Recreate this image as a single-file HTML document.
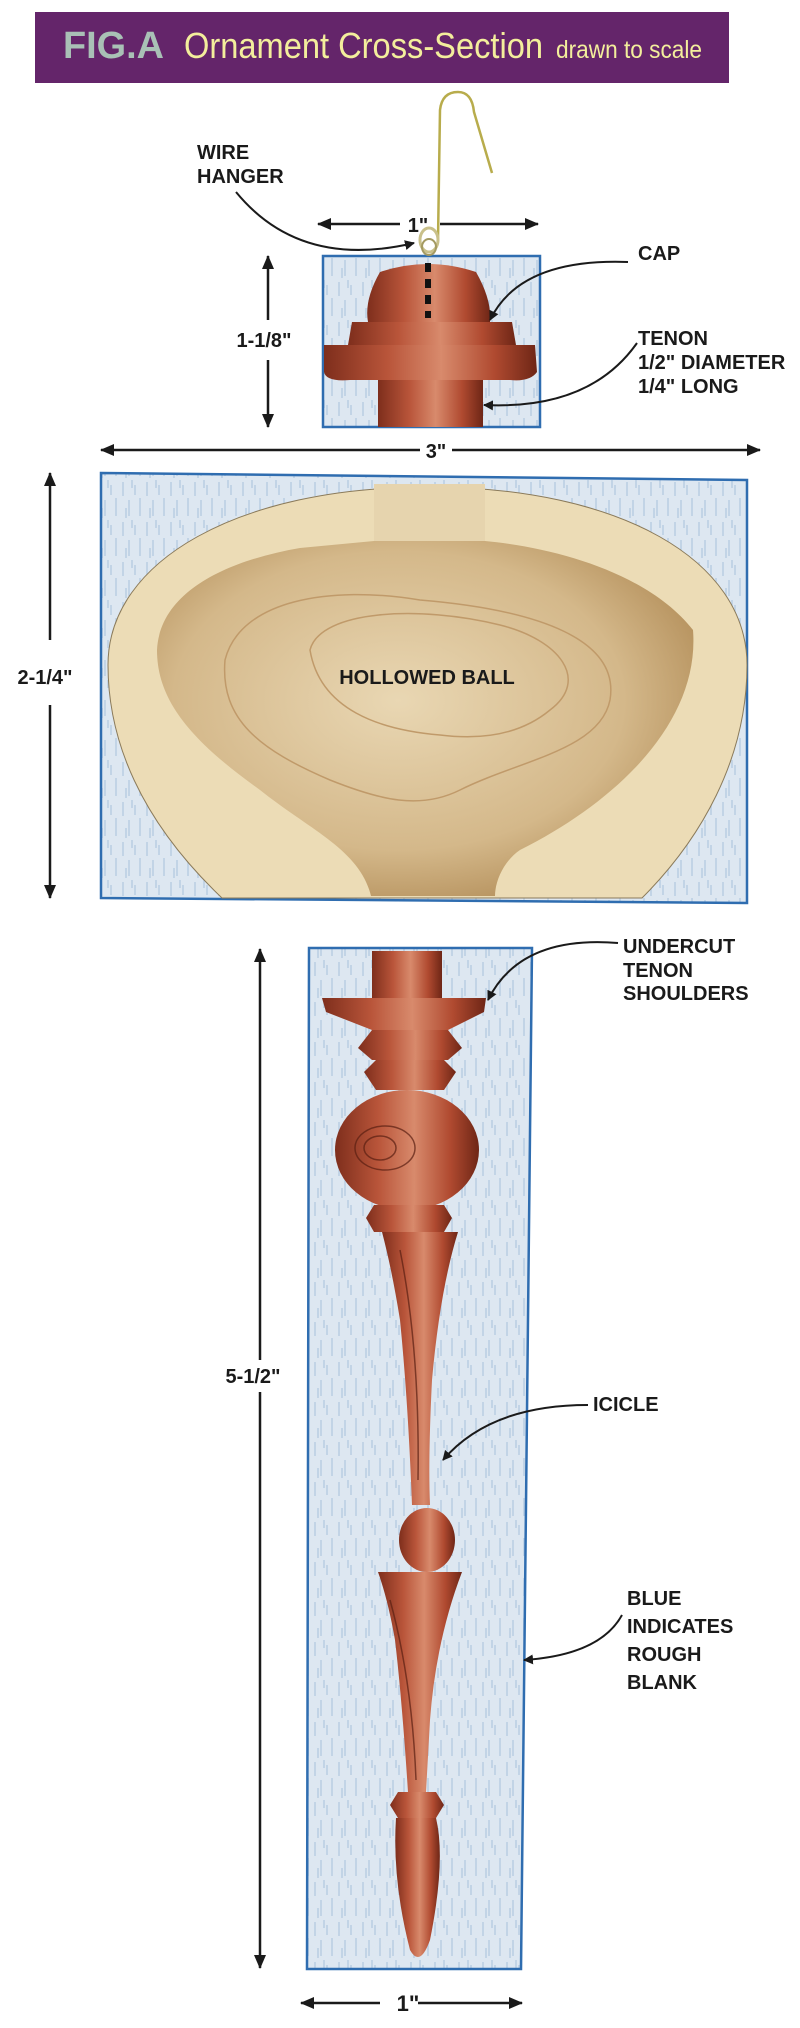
<!DOCTYPE html>
<html><head><meta charset="utf-8"><style>
html,body{margin:0;padding:0;background:#fff;}
svg{display:block;}
.n{font-family:"Liberation Sans Narrow","Liberation Sans",sans-serif;font-weight:bold;fill:#1a1a1a;}
.w{font-family:"Liberation Sans",sans-serif;font-weight:bold;fill:#1a1a1a;}
</style></head><body>
<svg width="800" height="2028" viewBox="0 0 800 2028" xmlns="http://www.w3.org/2000/svg">
<defs>
<pattern id="str" width="24" height="40" patternUnits="userSpaceOnUse">
<rect width="24" height="40" fill="#dde7f1"/>
<path d="M3 2v14M9 20v16M15 5v10M20 18v18M6 28v10M12 0v8" stroke="#b9cde3" stroke-width="1.5"/>
</pattern>
<marker id="ah" markerWidth="10" markerHeight="10" refX="9" refY="5" orient="auto" markerUnits="userSpaceOnUse"><path d="M0,0 L10,5 L0,10 Z" fill="#1a1a1a"/></marker>
<marker id="ah2" markerWidth="14" markerHeight="12" refX="13" refY="6" orient="auto" markerUnits="userSpaceOnUse"><path d="M0,0 L14,6 L0,12 Z" fill="#1a1a1a"/></marker>
<linearGradient id="wood" x1="0" x2="1" y1="0" y2="0">
<stop offset="0" stop-color="#7e2e1c"/><stop offset="0.3" stop-color="#b9553a"/><stop offset="0.55" stop-color="#d88a6c"/><stop offset="0.8" stop-color="#b04a30"/><stop offset="1" stop-color="#6e2616"/>
</linearGradient>
<radialGradient id="bowl" cx="0.45" cy="0.45" r="0.6">
<stop offset="0" stop-color="#e9d7b3"/><stop offset="0.7" stop-color="#d4b88a"/><stop offset="1" stop-color="#b6925e"/>
</radialGradient>
</defs>

<!-- Banner -->
<rect x="35" y="12" width="694" height="71" fill="#64256a"/>
<text x="63" y="58" font-family="Liberation Sans Narrow,Liberation Sans,sans-serif" font-weight="bold" font-size="38" fill="#a9c0b6" textLength="101" lengthAdjust="spacingAndGlyphs">FIG.A</text>
<text x="184" y="58" font-family="Liberation Sans Narrow,Liberation Sans,sans-serif" font-size="36" fill="#f3ee9c" textLength="359" lengthAdjust="spacingAndGlyphs">Ornament Cross-Section</text>
<text x="556" y="58" font-family="Liberation Sans Narrow,Liberation Sans,sans-serif" font-size="25" fill="#f3ee9c" textLength="146" lengthAdjust="spacingAndGlyphs">drawn to scale</text>

<!-- Top: cap -->
<rect x="323" y="256" width="217" height="171" fill="url(#str)" stroke="#2f6db0" stroke-width="2.5"/>
<rect x="378" y="375" width="105" height="52" fill="url(#wood)"/>
<path d="M324,345 L535,345 L537,372 Q530,382 510,380 L350,380 Q326,382 324,372 Z" fill="url(#wood)"/>
<path d="M352,322 L512,322 L516,345 L348,345 Z" fill="url(#wood)"/>
<path d="M380,272 Q428,256 476,272 Q492,300 490,322 L368,322 Q364,300 380,272 Z" fill="url(#wood)"/>
<line x1="428" y1="263" x2="428" y2="318" stroke="#111" stroke-width="6" stroke-dasharray="9,7"/>
<!-- wire -->
<path d="M438,240 L440,110 Q442,92 458,92 Q472,92 474,112 L492,173" fill="none" stroke="#b8ac4c" stroke-width="2.5"/>
<ellipse cx="429" cy="240" rx="9" ry="12" fill="none" stroke="#c9c08a" stroke-width="3"/>
<ellipse cx="429" cy="247" rx="7" ry="8" fill="none" stroke="#a49a62" stroke-width="2"/>
<!-- labels top -->
<text class="n" x="197" y="159" font-size="20">WIRE</text>
<text class="n" x="197" y="183" font-size="20">HANGER</text>
<path d="M236,192 Q300,270 414,243" fill="none" stroke="#1a1a1a" stroke-width="2" marker-end="url(#ah)"/>
<line x1="400" y1="224" x2="318" y2="224" stroke="#1a1a1a" stroke-width="2.5" marker-end="url(#ah2)"/>
<line x1="440" y1="224" x2="538" y2="224" stroke="#1a1a1a" stroke-width="2.5" marker-end="url(#ah2)"/>
<text class="n" x="418" y="232" font-size="20" text-anchor="middle">1"</text>
<line x1="268" y1="320" x2="268" y2="256" stroke="#1a1a1a" stroke-width="2.5" marker-end="url(#ah2)"/>
<line x1="268" y1="360" x2="268" y2="427" stroke="#1a1a1a" stroke-width="2.5" marker-end="url(#ah2)"/>
<text class="n" x="264" y="347" font-size="20" text-anchor="middle">1-1/8"</text>
<text class="n" x="638" y="260" font-size="20">CAP</text>
<path d="M628,262 Q520,258 490,320" fill="none" stroke="#1a1a1a" stroke-width="2" marker-end="url(#ah)"/>
<text class="n" x="638" y="345" font-size="20">TENON</text>
<text class="n" x="638" y="369" font-size="20">1/2" DIAMETER</text>
<text class="n" x="638" y="393" font-size="20">1/4" LONG</text>
<path d="M637,343 Q590,410 484,405" fill="none" stroke="#1a1a1a" stroke-width="2" marker-end="url(#ah)"/>

<!-- 3" -->
<line x1="420" y1="450" x2="101" y2="450" stroke="#1a1a1a" stroke-width="2.5" marker-end="url(#ah2)"/>
<line x1="452" y1="450" x2="760" y2="450" stroke="#1a1a1a" stroke-width="2.5" marker-end="url(#ah2)"/>
<text class="n" x="436" y="458" font-size="20" text-anchor="middle">3"</text>

<!-- Ball -->
<path d="M101,473 L747,480 L747,903 L101,898 Z" fill="url(#str)" stroke="#2f6db0" stroke-width="2.5"/>
<path d="M222,898 C140,820 108,740 108,665 C108,560 240,487 428,487 C620,487 747,560 747,665 C747,760 700,840 642,898 Z" fill="#ecdcb6" stroke="#8a7a5a" stroke-width="1"/>
<rect x="374" y="484" width="111" height="58" fill="#e6d4ae"/>
<path d="M371,896 C360,850 310,830 260,790 C190,740 157,700 157,650 C160,590 230,560 300,548 L374,541 L485,541 C560,548 650,575 693,630 C700,720 620,800 520,850 C505,860 495,880 495,896 Z" fill="url(#bowl)"/>
<path d="M225,660 C240,600 330,585 420,600 C540,610 620,640 610,700 C600,750 520,760 460,790 C420,810 380,800 330,780 C260,750 220,720 225,660 Z" fill="none" stroke="#c09a6a" stroke-width="1.5"/>
<path d="M310,650 C320,610 420,605 500,625 C560,640 590,680 550,710 C520,735 480,740 440,735 C380,730 320,710 310,650 Z" fill="none" stroke="#c09a6a" stroke-width="1.5"/>
<text class="n" x="427" y="684" font-size="20" text-anchor="middle">HOLLOWED BALL</text>
<line x1="50" y1="640" x2="50" y2="473" stroke="#1a1a1a" stroke-width="2.5" marker-end="url(#ah2)"/>
<line x1="50" y1="705" x2="50" y2="898" stroke="#1a1a1a" stroke-width="2.5" marker-end="url(#ah2)"/>
<text class="n" x="45" y="684" font-size="20" text-anchor="middle">2-1/4"</text>

<!-- Icicle -->
<path d="M309,948 L532,948 L521,1969 L307,1969 Z" fill="url(#str)" stroke="#2f6db0" stroke-width="2.5"/>
<g fill="url(#wood)">
<rect x="372" y="951" width="70" height="50"/>
<path d="M322,998 L486,998 L484,1012 L448,1030 L372,1030 L326,1012 Z"/>
<path d="M372,1030 L448,1030 L462,1048 L448,1060 L372,1060 L358,1048 Z"/>
<path d="M376,1060 L444,1060 L456,1072 L444,1090 L376,1090 L364,1072 Z"/>
<ellipse cx="407" cy="1150" rx="72" ry="60"/>
<path d="M374,1205 L444,1205 L452,1218 L444,1232 L374,1232 L366,1218 Z"/>
<path d="M382,1232 L458,1232 Q440,1290 432,1380 Q428,1460 430,1505 L412,1505 Q408,1400 400,1320 Q392,1270 382,1232 Z"/>
<ellipse cx="427" cy="1540" rx="28" ry="32"/>
<path d="M378,1572 L462,1572 Q436,1640 430,1720 L426,1792 L408,1792 Q402,1700 395,1640 Q388,1600 378,1572 Z"/>
<path d="M398,1792 L436,1792 L444,1805 L436,1818 L398,1818 L390,1805 Z"/>
<path d="M396,1818 L436,1818 Q446,1860 430,1940 Q420,1968 410,1950 Q392,1880 396,1818 Z"/>
</g>
<g fill="none" stroke="#5a1f12" stroke-width="1.5" opacity="0.7">
<ellipse cx="385" cy="1148" rx="30" ry="22"/><ellipse cx="380" cy="1148" rx="16" ry="12"/>
<path d="M400,1250 Q420,1350 418,1480"/><path d="M390,1600 Q412,1680 416,1780"/>
</g>
<text class="w" x="623" y="953" font-size="20">UNDERCUT</text>
<text class="w" x="623" y="977" font-size="20">TENON</text>
<text class="w" x="623" y="1000" font-size="20">SHOULDERS</text>
<path d="M618,943 Q520,935 488,1000" fill="none" stroke="#1a1a1a" stroke-width="2" marker-end="url(#ah)"/>
<text class="w" x="593" y="1411" font-size="20">ICICLE</text>
<path d="M588,1405 Q490,1405 443,1460" fill="none" stroke="#1a1a1a" stroke-width="2" marker-end="url(#ah)"/>
<text class="w" x="627" y="1605" font-size="20">BLUE</text>
<text class="w" x="627" y="1633" font-size="20">INDICATES</text>
<text class="w" x="627" y="1661" font-size="20">ROUGH</text>
<text class="w" x="627" y="1689" font-size="20">BLANK</text>
<path d="M622,1615 Q600,1655 524,1660" fill="none" stroke="#1a1a1a" stroke-width="2" marker-end="url(#ah)"/>
<line x1="260" y1="1360" x2="260" y2="949" stroke="#1a1a1a" stroke-width="2.5" marker-end="url(#ah2)"/>
<line x1="260" y1="1392" x2="260" y2="1968" stroke="#1a1a1a" stroke-width="2.5" marker-end="url(#ah2)"/>
<text class="w" x="253" y="1383" font-size="20" text-anchor="middle">5-1/2"</text>
<line x1="380" y1="2003" x2="301" y2="2003" stroke="#1a1a1a" stroke-width="2.5" marker-end="url(#ah2)"/>
<line x1="418" y1="2003" x2="522" y2="2003" stroke="#1a1a1a" stroke-width="2.5" marker-end="url(#ah2)"/>
<text class="w" x="408" y="2011" font-size="22" text-anchor="middle">1"</text>
</svg>
</body></html>
